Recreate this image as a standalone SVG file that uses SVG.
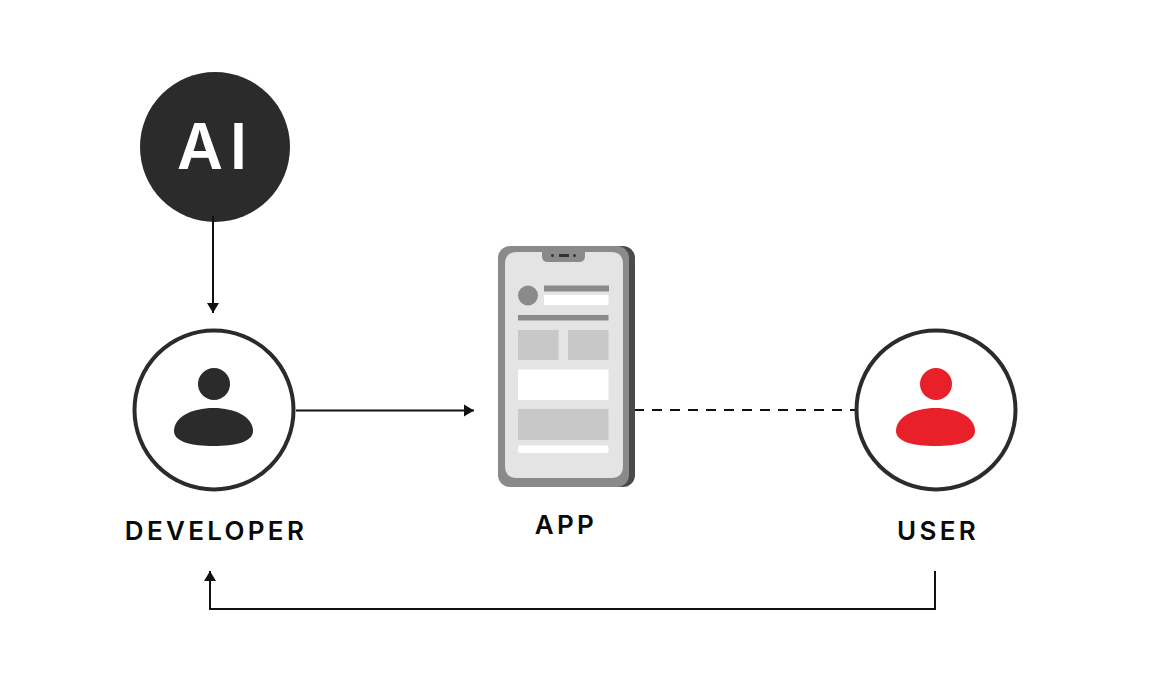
<svg xmlns="http://www.w3.org/2000/svg" width="1152" height="690" viewBox="0 0 1152 690">
<style>
.ring{fill:#fff;stroke:#2b2b2b;stroke-width:4}
.lbl{font-family:Inter,"Liberation Sans",sans-serif;font-weight:600;font-size:26px;fill:#0a0a0a;letter-spacing:3.3px;text-anchor:middle}
.ln{fill:none;stroke:#111;stroke-width:2}
.mid{fill:#8a8a8a}.lt{fill:#c8c8c8}.wh{fill:#fff}
</style>
<defs>
<marker id="arrow" markerUnits="userSpaceOnUse" markerWidth="11" markerHeight="13" refX="10" refY="6.500" orient="auto"><path d="M0 0.500L10 6.500L0 12.500Z" fill="#111"/></marker>
<path id="body" d="M174 431C174 417 192 408 213.500 408C235 408 253 417 253 431C253 442 235 446 213.500 446C192 446 174 442 174 431Z"/>
</defs>
<rect width="1152" height="690" fill="#fff"/>
<g id="connectors">
<path class="ln" d="M213 216V313" marker-end="url(#arrow)"/>
<path class="ln" d="M296 410.500H474" marker-end="url(#arrow)"/>
<path class="ln" d="M634 410H855" stroke-dasharray="10 8"/>
<path class="ln" d="M935 571V609H210V571" marker-end="url(#arrow)"/>
</g>
<g id="ai">
<circle cx="215" cy="147" r="75" fill="#2b2b2b"/>
<path d="M213 216V222" class="ln"/>
<text x="177" y="169" font-family="Inter,'Liberation Sans',sans-serif" font-weight="600" font-size="63" fill="#fff" letter-spacing="7">AI</text>
</g>
<g id="developer">
<circle class="ring" cx="214" cy="410" r="79.500"/>
<circle cx="214" cy="384" r="16" fill="#2b2b2b"/>
<use href="#body" fill="#2b2b2b"/>
<text class="lbl" x="216" y="540">DEVELOPER</text>
</g>
<g id="app">
<rect x="540" y="246" width="95" height="241" rx="12" fill="#4a4a4a"/>
<rect x="498" y="246" width="131" height="241" rx="12" fill="#8a8a8a"/>
<path d="M517 252H542V256Q542 262 548 262H579Q585 262 585 256V252H611Q623 252 623 264V466Q623 478 611 478H517Q505 478 505 466V264Q505 252 517 252Z" fill="#e4e4e4"/>
<circle cx="552.500" cy="255.500" r="1.500" fill="#333"/><rect x="559" y="254" width="10" height="3" fill="#333"/><circle cx="574.500" cy="255.500" r="1.500" fill="#333"/>
<circle class="mid" cx="528" cy="295.500" r="10"/>
<rect class="mid" x="544" y="285.500" width="65" height="6"/>
<rect class="wh" x="544" y="295" width="64.500" height="10"/>
<rect class="mid" x="518" y="315" width="90.500" height="5.500"/>
<rect class="lt" x="518" y="330" width="40.500" height="30"/>
<rect class="lt" x="568" y="330" width="40.500" height="30"/>
<rect class="wh" x="518" y="369.500" width="90.500" height="30.500"/>
<rect class="lt" x="518" y="409" width="90.500" height="31"/>
<rect class="wh" x="518" y="445.500" width="90.500" height="7.500" rx="2"/>
<text class="lbl" x="566" y="534">APP</text>
</g>
<g id="user">
<circle class="ring" cx="936" cy="410" r="79.500"/>
<circle cx="936" cy="384" r="16" fill="#e8202a"/>
<use href="#body" x="722" fill="#e8202a"/>
<text class="lbl" x="938" y="540">USER</text>
</g>
</svg>
